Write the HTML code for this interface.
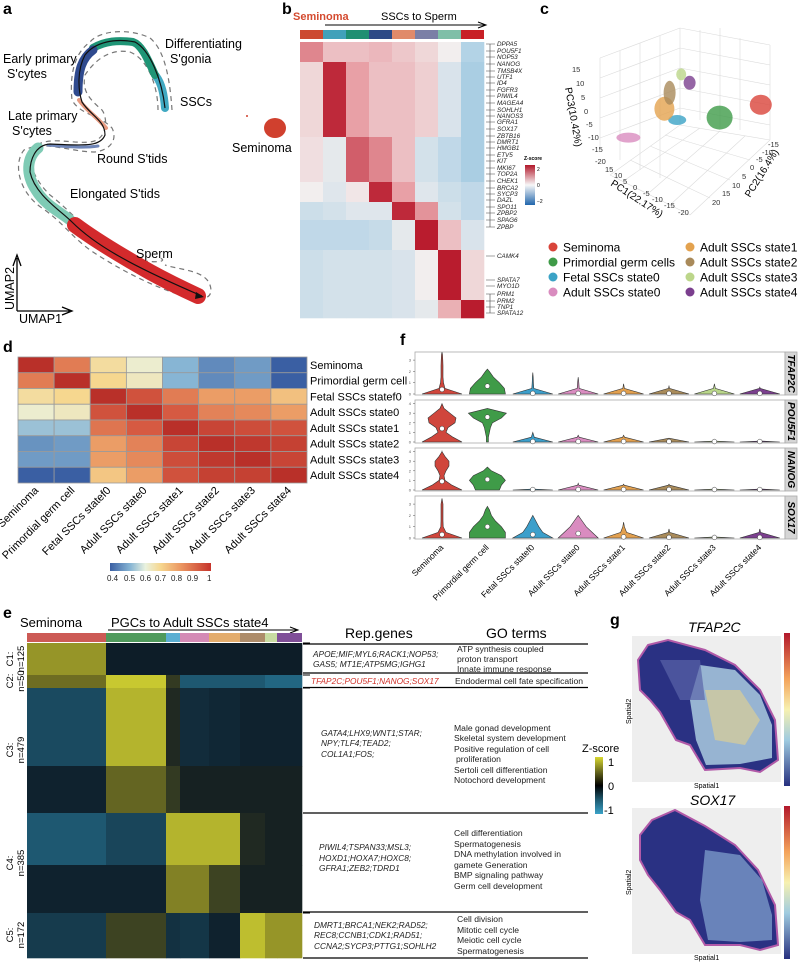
<!DOCTYPE html>
<html><head><meta charset="utf-8">
<style>
body{margin:0;background:#fff;}
svg{display:block;font-family:"Liberation Sans",Arial,sans-serif;}
.pl{font-weight:bold;font-size:16px;}
.it{font-style:italic;}
</style></head>
<body>
<svg id="fig" width="798" height="962" viewBox="0 0 798 962" xmlns="http://www.w3.org/2000/svg">
<defs><linearGradient id="gb" x1="0" y1="0" x2="0" y2="1"><stop offset="0" stop-color="#b2182b"/><stop offset="0.5" stop-color="#f7f7f7"/><stop offset="1" stop-color="#2166ac"/></linearGradient>
 <linearGradient id="gd" x1="0" y1="0" x2="1" y2="0"><stop offset="0" stop-color="#3a5fa3"/><stop offset="0.2" stop-color="#87b5d4"/><stop offset="0.35" stop-color="#e9f2df"/><stop offset="0.5" stop-color="#f6d78f"/><stop offset="0.7" stop-color="#eb9762"/><stop offset="1" stop-color="#c6332b"/></linearGradient>
 <linearGradient id="ge" x1="0" y1="0" x2="0" y2="1"><stop offset="0" stop-color="#d8d830"/><stop offset="0.25" stop-color="#6b6b1e"/><stop offset="0.5" stop-color="#000"/><stop offset="0.75" stop-color="#1e5a70"/><stop offset="1" stop-color="#3aa2c8"/></linearGradient>
 <linearGradient id="gg" x1="0" y1="0" x2="0" y2="1"><stop offset="0" stop-color="#b2182b"/><stop offset="0.3" stop-color="#f4a35a"/><stop offset="0.5" stop-color="#f7f1b0"/><stop offset="0.7" stop-color="#9fcbe0"/><stop offset="1" stop-color="#27307f"/></linearGradient></defs>
<!-- panel labels -->
<text class="pl" x="3" y="14">a</text>
<text class="pl" x="282" y="14">b</text>
<text class="pl" x="540" y="14">c</text>
<text class="pl" x="3" y="352">d</text>
<text class="pl" x="3" y="618">e</text>
<text class="pl" x="400" y="345">f</text>
<text class="pl" x="610" y="625">g</text>

<!-- panel a UMAP -->
<g id="umap">
 <g fill="none" stroke="#777" stroke-width="1.2" stroke-dasharray="5,4">
  <path d="M172,110 C170,80 165,50 150,38 C130,28 100,30 90,42 C72,55 70,80 72,100 C80,115 100,115 112,128 C118,140 110,150 95,152 C70,152 45,140 24,150 C12,165 20,195 45,210 C65,225 70,235 90,250 C120,270 150,285 180,295 C200,302 215,300 210,285 C205,270 180,270 165,265"/>
  <path d="M158,110 C158,90 150,60 130,52 C110,48 95,60 85,75 C82,90 88,98 102,110 C108,118 108,140 90,142 C70,144 48,135 32,148 C28,165 35,180 50,195 C70,210 95,240 120,255 C150,265 170,262 160,258"/>
 </g>
 <path d="M165,108 C164,95 162,84 156,76" fill="none" stroke="#41a9c2" stroke-width="8" stroke-linecap="round"/>
 <path d="M155,75 C148,60 142,45 133,42 C118,40 105,41 93,48" fill="none" stroke="#1f9576" stroke-width="8" stroke-linecap="round"/>
 <path d="M93,50 C82,58 78,70 78,92" fill="none" stroke="#2f4a8e" stroke-width="9" stroke-linecap="round"/>
 <path d="M79,100 C86,110 98,118 106,128" fill="none" stroke="#e79a80" stroke-width="4" stroke-linecap="round"/>
 <path d="M98,146 C85,148 70,147 48,145" fill="none" stroke="#6f86b8" stroke-width="3" stroke-linecap="round"/>
 <path d="M38,148 C26,158 26,175 36,190 C45,205 60,212 70,220" fill="none" stroke="#7fcbb5" stroke-width="11" stroke-linecap="round"/>
 <path d="M75,225 C95,240 120,255 150,272 C170,283 185,290 198,296" fill="none" stroke="#d32a2c" stroke-width="16" stroke-linecap="round"/>
 <path d="M165,108 C162,80 150,50 135,42 C115,38 95,42 85,55 C77,70 78,90 82,102 C90,115 105,120 105,135 C100,148 80,145 50,144 C35,145 30,160 30,172 C35,195 60,210 72,222 C95,245 130,265 202,296" fill="none" stroke="#111" stroke-width="1.2"/>
 <path d="M196,292 L204,297 L195,299" fill="#111"/>
 <ellipse cx="275" cy="128" rx="11" ry="10" fill="#d0402e"/>
 <circle cx="247" cy="116" r="1" fill="#d0402e"/>
 <g font-size="12.5">
 <text x="165" y="48">Differentiating</text>
 <text x="170" y="63">S'gonia</text>
 <text x="180" y="106">SSCs</text>
 <text x="3" y="63">Early primary</text>
 <text x="7" y="78">S'cytes</text>
 <text x="8" y="120">Late primary</text>
 <text x="12" y="135">S'cytes</text>
 <text x="97" y="163">Round S'tids</text>
 <text x="70" y="198">Elongated S'tids</text>
 <text x="136" y="258">Sperm</text>
 <text x="232" y="152">Seminoma</text>
 </g>
 <path d="M17,311 L17,258 M13,266 L17,255 L21,266 M17,311 L70,311 M62,307 L72,311 L62,315" fill="none" stroke="#000" stroke-width="1.3"/>
 <text transform="translate(14,310) rotate(-90)" font-size="12.5">UMAP2</text>
 <text x="19" y="323" font-size="12.5">UMAP1</text>
</g>

<!-- panel b -->
<g id="pb">
 <text x="293" y="20" font-size="11" font-weight="bold" fill="#d44a2f">Seminoma</text>
 <text x="381" y="20" font-size="11">SSCs to Sperm</text>
 <path d="M325,25 L485,25 M478,22 L486,25 L478,28" stroke="#000" fill="none"/>
 <g id="pbCells"></g>
 <g id="pbGenes"></g>
 <text x="524" y="160" font-size="5" font-weight="bold">Z-score</text>
 <rect x="525" y="165" width="10" height="40" fill="url(#gb)"/>
 <text x="537" y="171" font-size="5">2</text><text x="537" y="187" font-size="5">0</text><text x="537" y="203" font-size="5">−2</text>
</g>

<!-- panel c 3D PCA -->
<g id="pc">
 <g stroke="#dcdcdc" stroke-width="0.6" fill="none">
  <path d="M680,28 L680,125 M720,28 L720,128 M680,28 L600,58 M680,48 L600,78 M680,68 L600,98 M680,88 L600,118 M680,108 L600,138"/>
  <path d="M600,58 L600,150 M620,51 L620,160 M640,43 L640,170 M660,36 L660,178"/>
  <path d="M680,28 L770,45 M680,48 L770,65 M680,68 L770,85 M680,88 L770,105 M680,108 L770,125 M700,30 L700,120 M740,38 L740,130 M770,45 L770,140"/>
  <path d="M680,125 L610,175 M680,125 L770,140 M610,175 L690,215 M690,215 L770,140 M630,160 L710,198 M650,146 L730,180 M665,135 L750,160 M700,128 L625,180 M720,131 L650,192 M745,136 L670,205"/>
 </g>
 <g id="pcPts"></g>
 <g font-size="7.5" fill="#333">
  <text x="572" y="72">15</text><text x="576" y="86">10</text><text x="581" y="100">5</text><text x="584" y="114">0</text><text x="586" y="127">-5</text><text x="588" y="140">-10</text><text x="592" y="152">-15</text><text x="595" y="164">-20</text>
  <text x="605" y="172">15</text><text x="614" y="178">10</text><text x="623" y="184">5</text><text x="633" y="190">0</text><text x="643" y="196">-5</text><text x="652" y="202">-10</text><text x="664" y="208">-15</text><text x="678" y="215">-20</text>
  <text x="712" y="205">20</text><text x="722" y="196">15</text><text x="732" y="188">10</text><text x="742" y="179">5</text><text x="750" y="170">0</text><text x="756" y="162">-5</text><text x="762" y="155">-10</text><text x="768" y="147">-15</text>
 </g>
 <text transform="translate(565,88) rotate(80)" font-size="10">PC3(10.42%)</text>
 <text transform="translate(610,185) rotate(33)" font-size="10">PC1(22.17%)</text>
 <text transform="translate(750,198) rotate(-58)" font-size="10">PC2(16.4%)</text>
</g>
<g id="legendC" font-size="12"></g>

<!-- panel d -->
<g id="pd">
 <g id="pdCells"></g>
 <rect x="110" y="563" width="101" height="8" fill="url(#gd)"/>
 <g font-size="8" fill="#222"><text x="107" y="581">0.4</text><text x="124" y="581">0.5</text><text x="140" y="581">0.6</text><text x="155" y="581">0.7</text><text x="171" y="581">0.8</text><text x="187" y="581">0.9</text><text x="207" y="581">1</text></g>
</g>

<!-- panel f -->
<g id="pf"></g>

<!-- panel e -->
<g id="pe">
 <text x="20" y="627" font-size="13">Seminoma</text>
 <text x="111" y="627" font-size="13">PGCs to Adult SSCs state4</text>
 <path d="M108,630 L296,630 M290,627 L298,630 L290,633" stroke="#000" fill="none"/>
 <g id="peCells"></g>
 <g id="peLabels"></g>
</g>
<g id="tbl">
 <text x="345" y="638" font-size="14">Rep.genes</text>
 <text x="486" y="638" font-size="14">GO terms</text>
 <g stroke="#000" stroke-width="1.2"><line x1="303" y1="644" x2="588" y2="644"/><line x1="303" y1="673" x2="588" y2="673"/><line x1="303" y1="687.5" x2="588" y2="687.5"/><line x1="303" y1="813" x2="588" y2="813"/><line x1="303" y1="912" x2="588" y2="912"/><line x1="303" y1="958" x2="588" y2="958"/></g>
 <g font-size="8.3" class="it" fill="#222">
  <text x="313" y="657">APOE;MIF;MYL6;RACK1;NOP53;</text><text x="313" y="667">GAS5; MT1E;ATP5MG;IGHG1</text>
  <text x="311" y="684" fill="#d0322b">TFAP2C;POU5F1;NANOG;SOX17</text>
  <text x="321" y="736">GATA4;LHX9;WNT1;STAR;</text><text x="321" y="746">NPY;TLF4;TEAD2;</text><text x="321" y="757">COL1A1;FOS;</text>
  <text x="319" y="850">PIWIL4;TSPAN33;MSL3;</text><text x="319" y="861">HOXD1;HOXA7;HOXC8;</text><text x="319" y="871">GFRA1;ZEB2;TDRD1</text>
  <text x="314" y="928">DMRT1;BRCA1;NEK2;RAD52;</text><text x="314" y="938">REC8;CCNB1;CDK1;RAD51;</text><text x="314" y="949">CCNA2;SYCP3;PTTG1;SOHLH2</text>
 </g>
 <g font-size="8.6" fill="#222">
  <text x="457" y="652">ATP synthesis coupled</text><text x="457" y="662">proton transport</text><text x="457" y="672">Innate immune response</text>
  <text x="455" y="684">Endodermal cell fate specification</text>
  <text x="454" y="731">Male gonad development</text><text x="454" y="741">Skeletal system development</text><text x="454" y="752">Positive regulation of cell</text><text x="456" y="762">proliferation</text><text x="454" y="773">Sertoli cell differentiation</text><text x="454" y="783">Notochord development</text>
  <text x="454" y="836">Cell differentiation</text><text x="454" y="847">Spermatogenesis</text><text x="454" y="857">DNA methylation involved in</text><text x="454" y="868">gamete Generation</text><text x="454" y="878">BMP signaling pathway</text><text x="454" y="889">Germ cell development</text>
  <text x="457" y="922">Cell division</text><text x="457" y="933">Mitotic cell cycle</text><text x="457" y="943">Meiotic cell cycle</text><text x="457" y="954">Spermatogenesis</text>
 </g>
 <text x="582" y="752" font-size="11">Z-score</text>
 <rect x="595" y="757" width="8" height="57" fill="url(#ge)"/>
 <text x="608" y="766" font-size="11">1</text><text x="608" y="790" font-size="11">0</text><text x="604" y="814" font-size="11">-1</text>
</g>

<!-- panel g -->
<g id="pg">
 <text x="688" y="632" font-size="14" class="it">TFAP2C</text>
 <rect x="632" y="636" width="149" height="146" fill="#eeeeee"/>
 <path d="M648,645 L668,640 L705,650 L735,665 L760,690 L775,720 L778,760 L760,772 L740,768 L705,770 L690,745 L676,740 L660,712 L650,700 L640,690 L638,660 Z" fill="#2a3183" stroke="#b15aa8" stroke-width="2"/>
 <path d="M700,665 L735,670 L760,695 L772,725 L772,758 L740,764 L706,765 L696,740 L690,700 Z" fill="#aacbe0" opacity="0.85"/>
 <path d="M705,690 L740,690 L760,720 L745,745 L715,740 Z" fill="#e6d28c" opacity="0.6"/>
 <path d="M660,660 L700,660 L705,700 L680,700 Z" fill="#5a64a8" opacity="0.7"/>
 <rect x="784" y="633" width="6" height="153" fill="url(#gg)"/>
 <text transform="translate(631,724) rotate(-90)" font-size="7">Spatial2</text>
 <text x="694" y="788" font-size="7">Spatial1</text>
 <text x="690" y="805" font-size="14" class="it">SOX17</text>
 <rect x="632" y="808" width="149" height="146" fill="#eeeeee"/>
 <path d="M652,820 L675,810 L705,826 L735,845 L758,870 L775,905 L778,945 L760,950 L740,945 L705,945 L690,920 L676,912 L660,890 L648,875 L640,860 L640,835 Z" fill="#2a3183" stroke="#b15aa8" stroke-width="2"/>
 <path d="M705,850 L740,855 L762,880 L772,915 L772,940 L740,942 L708,940 L700,900 Z" fill="#7f9fcc" opacity="0.75"/>
 <rect x="784" y="806" width="6" height="153" fill="url(#gg)"/>
 <text transform="translate(631,895) rotate(-90)" font-size="7">Spatial2</text>
 <text x="694" y="960" font-size="7">Spatial1</text>
</g>
</svg>

<script>
// ---------------- Panel b data ----------------
const bColColors=["#cc4a31","#41a1ba","#1f8f72","#2e4a86","#e08a6a","#7b7fa6","#7fbfa8","#c82026"];
const bBlockEdges=[42,62,137,182,202,220,250,300,318];
const bBlockZ=[
 [1.2,0.6,0.6,0.7,0.5,0.3,0.0,-1.0],
 [0.3,1.9,1.0,0.6,0.6,0.4,-0.4,-1.1],
 [0.2,-0.2,1.5,1.2,0.6,-0.5,-0.8,-1.1],
 [0.0,-0.3,0.1,1.9,1.0,-0.3,-0.6,-0.8],
 [-0.6,-0.5,-0.3,-0.3,1.9,1.1,-0.5,-0.8],
 [-0.8,-0.8,-0.8,-0.7,-0.2,2.0,0.6,-0.4],
 [-0.6,-0.5,-0.5,-0.5,-0.4,0.0,2.0,0.3],
 [-0.6,-0.5,-0.5,-0.5,-0.4,-0.2,0.8,2.0]];
const bGenes=["DPPA5","POU5F1","NOP53","NANOG","TMSB4X","UTF1","ID4","FGFR3","PIWIL4","MAGEA4","SOHLH1","NANOS3","GFRA1","SOX17","ZBTB16","DMRT1","HMGB1","ETV5","KIT","MKI67","TOP2A","CHEK1","BRCA2","SYCP3","DAZL","SPO11","ZPBP2","SPAG6","ZPBP","CAMK4","SPATA7","MYO1D","PRM1","PRM2","TNP1","SPATA12"];
const bGeneY=[44,51,57,64,71,77,83,90,96,103,110,116,122,129,136,142,148,155,161,168,174,181,188,194,200,207,213,220,227,256,280,286,294,301,307,313];

// ---------------- Panel c data ----------------
const cNames=["Seminoma","Primordial germ cells","Fetal SSCs state0","Adult SSCs state1","Adult SSCs state0","Adult SSCs state2","Adult SSCs state3","Adult SSCs state4"];
const cColors=["#d9443a","#3f9b48","#3ba3c6","#e3a24f","#d98cbf","#a98a5a","#bcd68a","#7b3f8e"];
const cPC1=[-14,-6,4,8,16,8,6,5];
const cPC2=[-10,-4,0,0,4,-2,-4,-6];
const cPC3=[2,-2,-1,4,-4,10,16,14];

// ---------------- Panel d data ----------------
const dNames=["Seminoma","Primordial germ cell","Fetal SSCs statef0","Adult SSCs state0","Adult SSCs state1","Adult SSCs state2","Adult SSCs state3","Adult SSCs state4"];
const dCorr=[
 [1.00,0.85,0.68,0.62,0.50,0.45,0.47,0.40],
 [0.85,1.00,0.70,0.64,0.50,0.45,0.47,0.40],
 [0.68,0.70,1.00,0.92,0.85,0.80,0.80,0.74],
 [0.62,0.64,0.92,1.00,0.90,0.84,0.83,0.80],
 [0.52,0.52,0.86,0.90,1.00,0.95,0.93,0.92],
 [0.46,0.47,0.80,0.84,0.95,1.00,0.98,0.96],
 [0.47,0.47,0.80,0.83,0.93,0.98,1.00,0.95],
 [0.40,0.40,0.73,0.80,0.92,0.96,0.96,1.00]];

// ---------------- Panel e data ----------------
const eColColors=["#cc5a55","#4f9a5c","#5aaed2","#d48ab5","#e3ac6c","#ad8c6a","#c8dca2","#7f4f98"];
const eColEdges=[27,106,166,180,209,240,265,277,302];
const eRowEdges=[643,675,688,766,813,865,913,958];
const eZ=[
 [0.7,-0.05,-0.05,-0.05,-0.05,-0.05,-0.05,-0.05],
 [0.5,0.95,0.2,-0.6,-0.6,-0.6,-0.7,-0.7],
 [-0.5,0.85,0.1,-0.2,-0.15,-0.1,-0.1,-0.1],
 [-0.1,0.45,0.2,0.05,0.05,0.05,0.05,0.05],
 [-0.6,-0.45,0.85,0.85,0.85,0.1,0.05,0.05],
 [-0.1,-0.1,0.6,0.6,0.25,0.05,0.05,0.05],
 [-0.35,0.25,-0.25,-0.3,-0.1,0.9,0.7,0.7]];
const eClusters=["C1:","C2:","C3:","C4:","C5:"];
const eCounts=["n=125","n=50","n=479","n=385","n=172"];
const eClusterMid=[659,681,750,863,935];

// ---------------- Panel f data ----------------
const fGenes=["TFAP2C","POU5F1","NANOG","SOX17"];
const fCats=["Seminoma","Primordial germ cell","Fetal SSCs statef0","Adult SSCs state0","Adult SSCs state1","Adult SSCs state2","Adult SSCs state3","Adult SSCs state4"];
const fColors=["#d0463c","#3f9b48","#3c9fcb","#d98cc0","#e2a04f","#a98b5a","#b9d68a","#7b3f8e"];
const fDens=[
 [[20,3,1.5,1,1,1,0.8,0.5,0],[18,17,12,6,2,0,0,0,0],[20,1,0.6,0.4,0,0,0,0,0],[20,1,0.6,0.3,0,0,0,0,0],[20,0.8,0.4,0,0,0,0,0,0],[20,0.6,0.3,0,0,0,0,0,0],[20,1,0.4,0,0,0,0,0,0],[20,0.5,0.3,0,0,0,0,0,0]],
 [[20,11,4,6,13,14,8,2,0],[1,1,2,3,5,14,19,4,0],[20,1.5,0.5,0,0,0,0,0,0],[20,1,0.4,0,0,0,0,0,0],[20,1,0.4,0,0,0,0,0,0],[20,0.7,0,0,0,0,0,0,0],[20,0,0,0,0,0,0,0,0],[20,0,0,0,0,0,0,0,0]],
 [[20,10,3,2,4,7,7,3,0],[12,14,18,14,4,1,0,0,0],[20,0,0,0,0,0,0,0,0],[20,0.7,0.4,0,0,0,0,0,0],[20,0.7,0.4,0,0,0,0,0,0],[20,0.7,0.4,0,0,0,0,0,0],[20,0,0,0,0,0,0,0,0],[20,0,0,0,0,0,0,0,0]],
 [[20,4,1.2,1,1,1,1,0.5,0],[18,18,14,8,4,2,0,0,0],[20,10,6,3,1,0,0,0,0],[20,14,8,4,1,0,0,0,0],[20,3,0.8,0.5,0,0,0,0,0],[20,0.8,0.4,0,0,0,0,0,0],[20,0,0,0,0,0,0,0,0],[20,0.8,0.4,0,0,0,0,0,0]]];
const fMax=[[3.7,2.2,1.9,1.5,0.9,0.7,0.9,0.6],[4.0,3.5,1.0,0.7,0.7,0.4,0.1,0.1],[4.1,2.4,0.1,0.7,0.6,0.6,0.1,0.1],[3.5,2.8,2.0,2.0,1.4,0.8,0.1,0.8]];
const fMedian=[[0.4,0.7,0.05,0.05,0.05,0.05,0.05,0.05],[1.4,2.6,0.05,0.05,0.05,0.05,0.05,0.05],[0.9,1.1,0.05,0.05,0.05,0.05,0.05,0.05],[0.3,1.0,0.3,0.4,0.1,0.05,0.05,0.05]];
const fTicks=[[0,1,2,3],[0,1,2,3,4],[0,1,2,3,4],[0,1,2,3]];

const NS="http://www.w3.org/2000/svg";
function mk(tag,attrs,parent){const e=document.createElementNS(NS,tag);for(const k in attrs)e.setAttribute(k,attrs[k]);parent.appendChild(e);return e;}
function lerpC(a,b,t){const pa=[1,3,5].map(i=>parseInt(a.substr(i,2),16)),pb=[1,3,5].map(i=>parseInt(b.substr(i,2),16));return "rgb("+pa.map((v,i)=>Math.round(v+(pb[i]-v)*t)).join(",")+")";}
function scaleStops(stops,v){for(let i=0;i<stops.length-1;i++){if(v<=stops[i+1][0]){const t=(v-stops[i][0])/(stops[i+1][0]-stops[i][0]);return lerpC(stops[i][1],stops[i+1][1],Math.max(0,Math.min(1,t)));}}return stops[stops.length-1][1];}

// panel b
(function(){
 const g=document.getElementById("pbCells");const x0=300,w=23;
 const st=[[-2,"#5a9cc8"],[-1,"#b3d3e6"],[0,"#f2eeee"],[1,"#e8a0a6"],[2,"#b91c2e"]];
 bColColors.forEach((c,i)=>{const r=mk("rect",{x:x0+i*w,y:30,width:w,height:9,fill:c},g);
  
  });
 bBlockZ.forEach((row,bi)=>row.forEach((z,ci)=>{
  const r=mk("rect",{x:x0+ci*w,y:bBlockEdges[bi],width:w+0.3,height:bBlockEdges[bi+1]-bBlockEdges[bi]+0.3,fill:scaleStops(st,z)},g);
  
  }));
 const gg=document.getElementById("pbGenes");
 bGenes.forEach((n,i)=>{const t=mk("text",{x:497,y:bGeneY[i]+2,"font-size":"6.3","font-style":"italic",fill:"#222"},gg);t.textContent=n;
  
  
  mk("line",{x1:486,y1:bGeneY[i],x2:495,y2:bGeneY[i],stroke:"#444","stroke-width":0.5},gg);});
 mk("path",{d:"M490,44 L490,227 M490,294 L490,313",stroke:"#444","stroke-width":0.6,fill:"none"},gg);
})();

// panel c
(function(){
 const g=document.getElementById("pcPts");
 const px=(a,b,c)=>[690 - a*3.2 - b*2.6, 112 + a*1.2 - b*1.6 - c*3.2];
 const sizes=[[11,10],[13,12],[9,5],[10,12],[12,5],[6,12],[5,6],[6,7]];
 cNames.forEach((n,i)=>{const p=px(cPC1[i],cPC2[i],cPC3[i]);
  const e=mk("ellipse",{cx:p[0],cy:p[1],rx:sizes[i][0],ry:sizes[i][1],fill:cColors[i],opacity:0.8},g);
  
  });
 const lg=document.getElementById("legendC");
 const order=[0,3,1,5,2,6,4,7];
 order.forEach((idx,k)=>{const col=k%2,row=k>>1;const x=col?690:553,y=247+row*15;
  const c=mk("circle",{cx:x,cy:y,r:4.5,fill:cColors[idx]},lg);
  
  
  const t=mk("text",{x:x+10,y:y+4.5},lg);t.textContent=cNames[idx];
  
  });
})();

// panel d
(function(){
 const g=document.getElementById("pdCells");const x0=18,y0=357,w=(307-18)/8,h=(483-357)/8;
 const st=[[0.4,"#3a5fa3"],[0.5,"#87b5d4"],[0.6,"#e9f2df"],[0.7,"#f6d78f"],[0.8,"#eb9d66"],[0.9,"#d65a42"],[1.0,"#b93029"]];
 dCorr.forEach((row,ri)=>row.forEach((v,ci)=>{const r=mk("rect",{x:x0+ci*w,y:y0+ri*h,width:w,height:h,fill:scaleStops(st,v),stroke:"#9a9a9a","stroke-width":0.8},g);
  
  }));
 dNames.forEach((n,i)=>{const t=mk("text",{x:310,y:y0+i*h+h/2+4,"font-size":"11"},g);t.textContent=n;
  
  
  const cx=x0+i*w+w/2+3;const t2=mk("text",{x:cx,y:491,"font-size":"11","text-anchor":"end",transform:"rotate(-45 "+cx+" 491)"},g);t2.textContent=n;
  
  });
})();

// panel f
(function(){
 const g=document.getElementById("pf");const xL=415,xR=785,tops=[352,400,448,496],H=43;
 const xc=i=>442+i*45.4;
 fGenes.forEach((gene,gi)=>{
  const top=tops[gi],zero=top+H-1;const ys=v=>zero-v*(gi==0||gi==3?11.3:9.6);
  mk("rect",{x:xL,y:top,width:xR-xL,height:H,fill:"#fff",stroke:"#aaa","stroke-width":0.8},g);
  mk("rect",{x:xR,y:top,width:12,height:H,fill:"#d6d6d6",stroke:"#aaa","stroke-width":0.8},g);
  const st=mk("text",{transform:"translate("+(xR+3)+","+(top+H/2)+") rotate(90)","font-size":"10","font-style":"italic","font-weight":"bold","text-anchor":"middle"},g);st.textContent=gene;
  
  
  fTicks[gi].forEach(t=>{mk("line",{x1:xL-2,x2:xL,y1:ys(t),y2:ys(t),stroke:"#555","stroke-width":0.5},g);const tt=mk("text",{x:xL-4,y:ys(t)+1.5,"font-size":"4","text-anchor":"end",fill:"#555"},g);tt.textContent=t;});
  fCats.forEach((c,ci)=>{
   const d=fDens[gi][ci],mx=fMax[gi][ci];let R=[],L=[];
   for(let k=0;k<d.length;k++){const lv=k*0.5;if(lv>=mx)break;R.push([xc(ci)+d[k],ys(lv)]);L.push([xc(ci)-d[k],ys(lv)]);}
   const pts=R.concat([[xc(ci),ys(mx)]]).concat(L.reverse());
   const p=mk("path",{d:"M"+pts.map(q=>q[0].toFixed(1)+","+q[1].toFixed(1)).join(" L")+"Z",fill:fColors[ci],stroke:"#333","stroke-width":0.6},g);
   
   
   const m=mk("circle",{cx:xc(ci),cy:ys(fMedian[gi][ci]),r:2.4,fill:"#fff",stroke:"#333","stroke-width":0.5},g);
   
   
  });
 });
 fCats.forEach((c,ci)=>{const cx=xc(ci)+2;const t=mk("text",{x:cx,y:548,"font-size":"8.5","text-anchor":"end",transform:"rotate(-45 "+cx+" 548)"},g);t.textContent=c;
  
  });
})();

// panel e
(function(){
 const g=document.getElementById("peCells");
 const st=[[-1,"#2f8fb5"],[-0.5,"#1a4a60"],[0,"#0c1822"],[0.5,"#6e6d22"],[1,"#d2d232"]];
 eColColors.forEach((c,i)=>{const r=mk("rect",{x:eColEdges[i],y:633,width:eColEdges[i+1]-eColEdges[i],height:9,fill:c},g);
  
  });
 eZ.forEach((row,ri)=>row.forEach((z,ci)=>{const r=mk("rect",{x:eColEdges[ci],y:eRowEdges[ri],width:eColEdges[ci+1]-eColEdges[ci]+0.3,height:eRowEdges[ri+1]-eRowEdges[ri]+0.3,fill:scaleStops(st,z)},g);
  
  }));
 const lg=document.getElementById("peLabels");
 eClusters.forEach((c,i)=>{const y=eClusterMid[i];
  const t=mk("text",{transform:"translate(13,"+y+") rotate(-90)","font-size":"9.5","text-anchor":"middle"},lg);t.textContent=c;
  
  
  const t2=mk("text",{transform:"translate(24,"+y+") rotate(-90)","font-size":"9.5","text-anchor":"middle"},lg);t2.textContent=eCounts[i];
  
  });
 [643,675,688,813,913,958].forEach(y=>mk("line",{x1:303,x2:310,y1:y,y2:y,stroke:"#000"},lg));
})();
</script>
</body></html>
